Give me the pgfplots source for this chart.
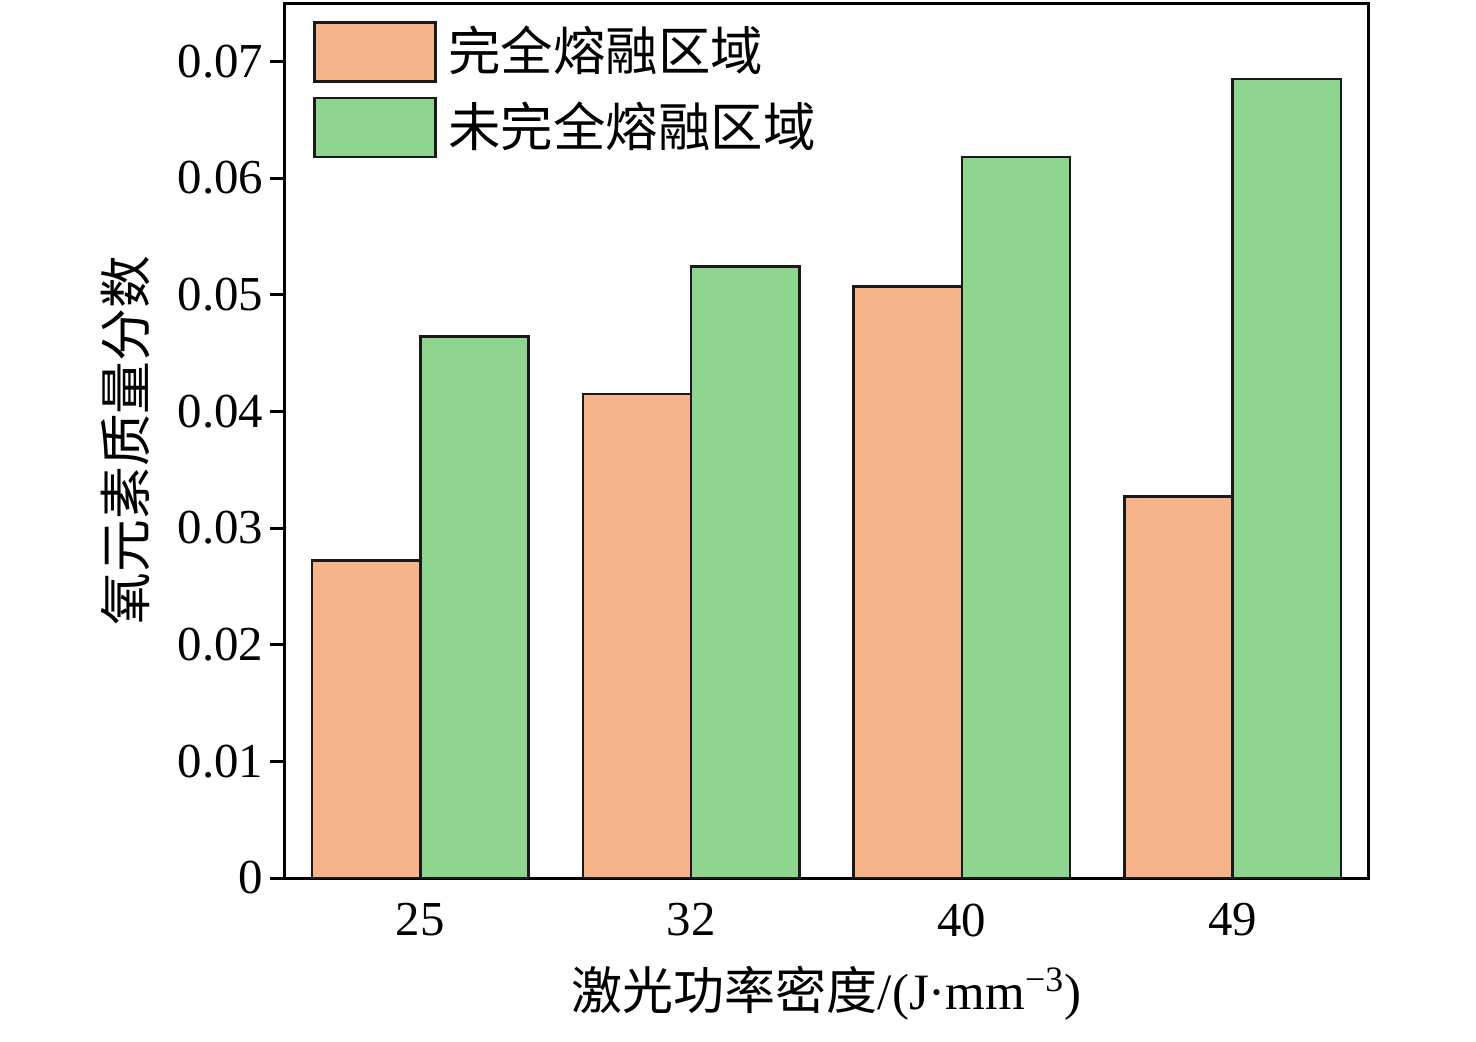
\documentclass[border=0pt]{standalone}
\usepackage{fontspec}
\setmainfont{Liberation Serif}
\newfontfamily\cjk{Noto Sans CJK SC}
\usepackage{pgfplots}
\pgfplotsset{compat=1.18}
\definecolor{barorange}{HTML}{F5B389}
\definecolor{bargreen}{HTML}{8FD590}
\begin{document}
\fontsize{24.5}{29}\selectfont
\begin{tikzpicture}
\path[use as bounding box] (-142.5bp,-82bp) rectangle (595.5bp,439bp);
\begin{axis}[
  at={(0,0)}, anchor=south west,
  scale only axis,
  width=541.5bp, height=437.5bp,
  xmin=-0.5, xmax=3.5,
  ymin=0, ymax=0.075,
  ybar, bar width=0.4,
  axis line style={line width=1.5bp},
  xtick={0,1,2,3},
  xticklabels={25,32,40,49},
  major x tick style={draw=none},
  ytick={0,0.01,0.02,0.03,0.04,0.05,0.06,0.07},
  yticklabels={0,0.01,0.02,0.03,0.04,0.05,0.06,0.07},
  ytick pos=left,
  tick align=outside,
  major tick length=7.5bp,
  major y tick style={line width=1.5bp, black},
  ticklabel style={font=\fontsize{24.5}{29}\selectfont},
  yticklabel style={xshift=5bp},
  xticklabel style={yshift=3bp},
  xlabel={{\cjk 激光功率密度}/(J·mm\textsuperscript{−3})},
  xlabel style={at={(axis description cs:0.5,-0.1314)}, anchor=center, font=\fontsize{25.6}{30}\selectfont},
  ylabel={\cjk 氧元素质量分数},
  ylabel style={at={(axis description cs:-0.1477,0.5)}, anchor=center, font=\fontsize{26.5}{30}\selectfont},
  legend style={at={(axis description cs:0,1)}, anchor=north west, xshift=14bp, yshift=-9bp,
    draw=none, fill=none, inner sep=0pt, outer sep=0pt, row sep=7bp,
    font=\fontsize{26.3}{30}\selectfont\cjk, cells={anchor=west}},
  legend image code/.code={\draw[#1, bar shift=0pt] (0bp,-14.75bp) rectangle (60.5bp,14.75bp); \path (64.5bp,0bp);},
  legend cell align=left,
]
\addplot[fill=barorange, draw=black!90, line width=1.3bp, bar shift=-0.2] coordinates {(0,0.0272) (1,0.0415) (2,0.0507) (3,0.0327)};
\addplot[fill=bargreen, draw=black!90, line width=1.3bp, bar shift=0.2] coordinates {(0,0.0464) (1,0.0524) (2,0.0618) (3,0.0685)};
\legend{完全熔融区域,未完全熔融区域}
\end{axis}
\end{tikzpicture}
\end{document}
